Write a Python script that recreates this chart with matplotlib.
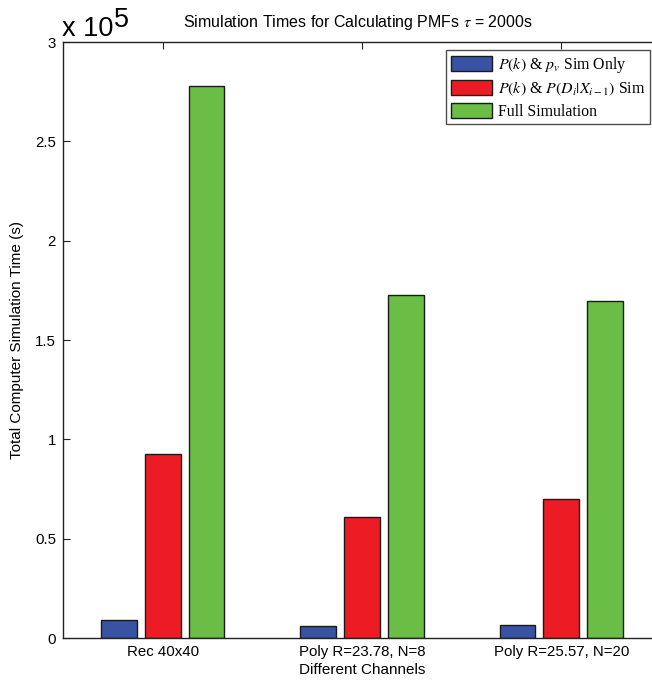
import numpy as np
import matplotlib
matplotlib.use("Agg")
import matplotlib.pyplot as plt

plt.rcParams['font.family'] = ['Liberation Sans', 'DejaVu Sans']
plt.rcParams['mathtext.fontset'] = 'stix'

categories = ["Rec 40x40", "Poly R=23.78, N=8", "Poly R=25.57, N=20"]
pk_pv_only = [0.090, 0.059, 0.064]      # x 1e5 s
pk_pdx_sim = [0.925, 0.608, 0.699]      # x 1e5 s
full_sim = [2.78, 1.725, 1.695]         # x 1e5 s
series_labels = [r"$P(k)$ & $p_v$ Sim Only",
                 r"$P(k)$ & $P(D_i|X_{i-1})$ Sim",
                 "Full Simulation"]
colors = ["#3853A4", "#ED1C24", "#6ABD45"]
yticks = [0, 0.5, 1, 1.5, 2, 2.5, 3]

W, H = 652, 681
fig = plt.figure(figsize=(W / 100, H / 100), dpi=100)
ax = fig.add_axes([63 / W, (H - 638) / H, (661 - 63) / W, (638 - 42) / H])

x = np.arange(1, len(categories) + 1)
offsets = [-0.22, 0.0, 0.22]
handles = []
for vals, off, col, lab in zip([pk_pv_only, pk_pdx_sim, full_sim], offsets, colors, series_labels):
    b = ax.bar(x + off, vals, width=0.18, color=col, edgecolor="#1a1a1a",
               linewidth=1.0, label=lab, zorder=2)
    handles.append(b)

ax.set_xlim(0.5, 3.5)
ax.set_ylim(0, 3)
ax.set_xticks(x)
ax.set_xticklabels(categories, fontsize=10.8)
ax.set_yticks(yticks)
ax.set_yticklabels([f"{t:g}" for t in yticks], fontsize=10.8)
ax.tick_params(direction="in", length=5, width=0.8, top=True, right=True,
               pad=5, color="#222222")
for s in ax.spines.values():
    s.set_linewidth(1.0)
    s.set_color("#222222")
ax.spines["right"].set_visible(False)

ax.set_xlabel("Different Channels", fontsize=11, labelpad=3)
ax.set_ylabel("Total Computer Simulation Time (s)", fontsize=11, labelpad=8)

fig.text(183 / W, 1 - 22 / H, r"Simulation Times for Calculating PMFs $\tau$ = 2000s",
         fontsize=11.5, ha="left", va="center")
fig.text(62 / W, 1 - 36 / H, "x 10", fontsize=19.5, ha="left", va="baseline")
fig.text(114 / W, 1 - 27 / H, "5", fontsize=19.5, ha="left", va="baseline")

leg = ax.legend(handles=handles, loc="upper right",
                bbox_to_anchor=((650 - 63) / 598, (638 - 50) / 596),
                prop={"family": "Liberation Serif", "size": 11.4},
                frameon=True, fancybox=False, edgecolor="#222222",
                handlelength=2.6, handleheight=1.1, handletextpad=0.35,
                labelspacing=0.3, borderpad=0.3, borderaxespad=0)
leg.get_frame().set_linewidth(1.0)

fig.savefig("out.png", dpi=100, facecolor="white")
